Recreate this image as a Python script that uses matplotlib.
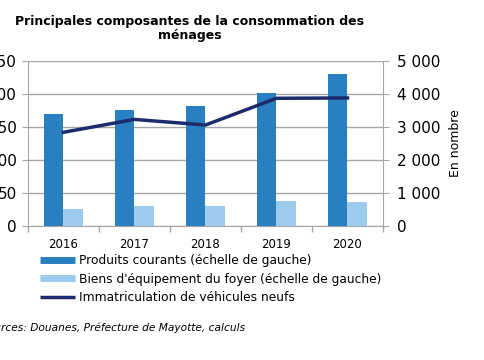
import matplotlib
matplotlib.use("Agg")
import matplotlib.pyplot as plt
import numpy as np
from matplotlib.lines import Line2D

years = ['2016', '2017', '2018', '2019', '2020']
produits_courants = [169, 176, 182, 201, 231]
biens_equipement = [26, 31, 30, 38, 37]
immatriculations = [2840, 3230, 3060, 3870, 3880]

c_dark = '#2a7fc1'
c_light = '#9ccbee'
c_line = '#1b2b6b'
c_grid = '#a6a6a6'

plt.rcParams['font.family'] = 'DejaVu Sans'

fig = plt.figure(figsize=(4.85, 3.6), dpi=100)
ax = fig.add_axes([28 / 485, 1 - 226 / 360, 355 / 485, 165 / 360])
x = np.arange(len(years))
w = 0.28
ax.bar(x - w / 2, produits_courants, w, color=c_dark, zorder=3)
ax.bar(x + w / 2, biens_equipement, w, color=c_light, zorder=3)
ax.set_xlim(-0.5, len(years) - 0.5)
ax.set_ylim(0, 250)
ax.set_yticks(range(0, 251, 50))
ax.yaxis.grid(True, color=c_grid, lw=1, zorder=0)
ax.set_xticks(x)
ax.set_xticklabels(years, fontsize=8.5)
ax.set_xticks(np.arange(-0.5, len(years)), minor=True)
ax.tick_params(axis='x', which='major', length=0, pad=9)
ax.tick_params(axis='x', which='minor', length=4, color=c_grid, width=1)
ax.tick_params(axis='y', length=4, color=c_grid, labelsize=11, pad=4)
for s in ['top', 'right']:
    ax.spines[s].set_visible(False)
for s in ['left', 'bottom']:
    ax.spines[s].set_color(c_grid)

ax2 = ax.twinx()
ax2.plot(x, immatriculations, color=c_line, lw=2.5, zorder=4)
ax2.set_ylim(0, 5000)
ax2.set_yticks(range(0, 5001, 1000))
ax2.set_yticklabels(['0', '1 000', '2 000', '3 000', '4 000', '5 000'])
ax2.tick_params(axis='y', length=4, color=c_grid, labelsize=11, pad=6)
for s in ['top', 'left', 'bottom']:
    ax2.spines[s].set_visible(False)
ax2.spines['right'].set_color(c_grid)
ax2.set_ylabel('En nombre', fontsize=9, labelpad=6)

fig.text(190 / 485, 1 - 29 / 360, 'Principales composantes de la consommation des\nménages',
         ha='center', va='center', fontsize=9, fontweight='bold', linespacing=1.1)

handles = [Line2D([], [], color=c_dark, lw=5, solid_capstyle='butt'),
           Line2D([], [], color=c_light, lw=5, solid_capstyle='butt'),
           Line2D([], [], color=c_line, lw=2.5, solid_capstyle='butt')]
labels = ['Produits courants (échelle de gauche)',
          "Biens d'équipement du foyer (échelle de gauche)",
          'Immatriculation de véhicules neufs']
fig.legend(handles, labels, loc='upper left', bbox_to_anchor=(40 / 485, 1 - 254 / 360),
           frameon=False, fontsize=8.8, handlelength=2.9, handletextpad=0.3,
           labelspacing=0.45, borderpad=0, borderaxespad=0)

fig.text(-0.04, 1 - 328 / 360, 'Sources: Douanes, Préfecture de Mayotte, calculs',
         ha='left', va='center', fontsize=7.7, style='italic')

fig.savefig('out.png', dpi=100)
